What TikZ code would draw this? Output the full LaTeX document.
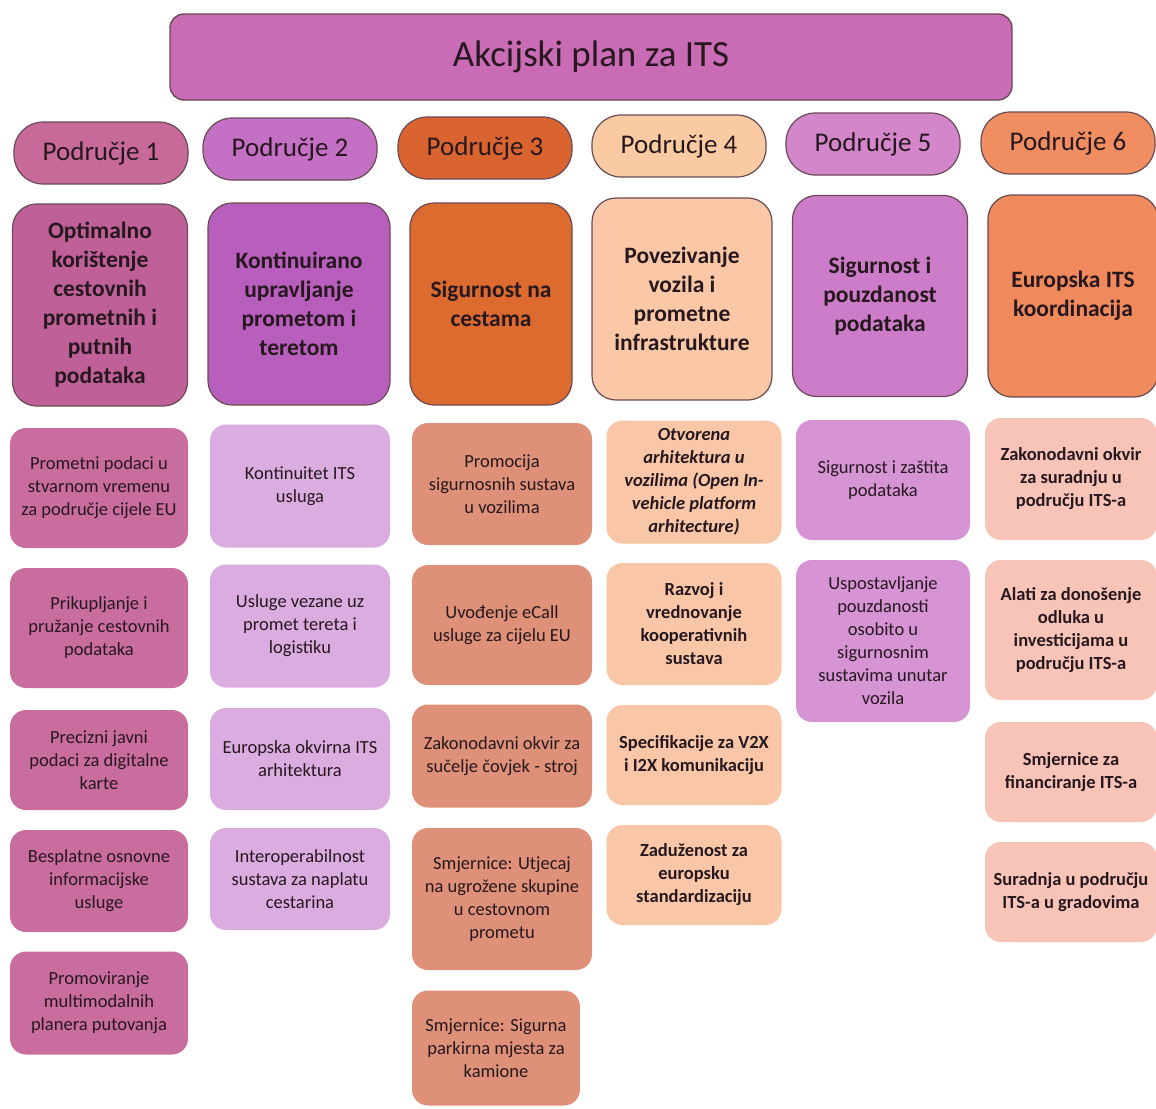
\documentclass[tikz,border=0pt]{standalone}
\usepackage{fontspec}
\setmainfont{Carlito}
\definecolor{rub}{RGB}{105,75,85}
\definecolor{tekst}{RGB}{38,24,30}
\definecolor{naslovboja}{RGB}{201,108,181}
%boje po podrucjima: zaglavlje, cilj, mjere
\definecolor{zagA}{RGB}{199,106,153}\definecolor{ciljA}{RGB}{192,96,152}\definecolor{mjeraA}{RGB}{201,108,158}
\definecolor{zagB}{RGB}{196,112,196}\definecolor{ciljB}{RGB}{184,94,188}\definecolor{mjeraB}{RGB}{218,172,224}
\definecolor{zagC}{RGB}{218,100,48}\definecolor{ciljC}{RGB}{221,106,46}\definecolor{mjeraC}{RGB}{222,144,120}
\definecolor{zagD}{RGB}{250,202,163}\definecolor{ciljD}{RGB}{250,200,166}\definecolor{mjeraD}{RGB}{249,199,168}
\definecolor{zagE}{RGB}{212,134,202}\definecolor{ciljE}{RGB}{204,124,200}\definecolor{mjeraE}{RGB}{214,148,213}
\definecolor{zagF}{RGB}{240,142,98}\definecolor{ciljF}{RGB}{240,138,92}\definecolor{mjeraF}{RGB}{248,196,184}
\begin{document}
\begin{tikzpicture}[x=1pt,y=-1pt,text=tekst,
	naslov/.style={draw=rub,line width=1.4pt,fill=naslovboja,rounded corners=14pt,minimum width=842pt,minimum height=86pt,font=\fontsize{37}{44}\selectfont},
	podrucje/.style={draw=rub,line width=1.2pt,rounded corners=29pt,minimum width=174pt,minimum height=62pt,font=\fontsize{27}{32}\selectfont},
	cilj/.style={draw=rub,line width=1.2pt,rounded corners=24pt,minimum height=202pt,align=center,font=\bfseries\fontsize{23.5}{29}\selectfont},
	mjera/.style={rounded corners=16pt,align=center,font=\fontsize{18.5}{23}\selectfont},
	mjerab/.style={mjera,font=\bfseries\fontsize{18.5}{23}\selectfont}]
	\useasboundingbox (0,0) rectangle (1156,1108);
	%Naslov
	\node[naslov] (plan) at (591,57) {Akcijski plan za ITS};
	%Podrucja
	\node[podrucje,fill=zagA] (p1) at (101,153) {Područje 1};
	\node[podrucje,fill=zagB] (p2) at (290,149) {Područje 2};
	\node[podrucje,fill=zagC] (p3) at (485,148) {Područje 3};
	\node[podrucje,fill=zagD] (p4) at (679,146) {Područje 4};
	\node[podrucje,fill=zagE] (p5) at (873,144) {Područje 5};
	\node[podrucje,fill=zagF] (p6) at (1068,143) {Područje 6};
	%Ciljevi
	\node[cilj,fill=ciljA,minimum width=175pt] (c1) at (100,305) {Optimalno\\korištenje\\cestovnih\\prometnih i\\putnih\\podataka};
	\node[cilj,fill=ciljB,minimum width=182pt] (c2) at (299,304) {Kontinuirano\\upravljanje\\prometom i\\teretom};
	\node[cilj,fill=ciljC,minimum width=162pt] (c3) at (491,304) {Sigurnost na\\cestama};
	\node[cilj,fill=ciljD,minimum width=180pt] (c4) at (682,299) {Povezivanje\\vozila i\\prometne\\infrastrukture};
	\node[cilj,fill=ciljE,minimum width=175pt,minimum height=201pt] (c5) at (880,296) {Sigurnost i\\pouzdanost\\podataka};
	\node[cilj,fill=ciljF,minimum width=170pt] (c6) at (1073,296) {Europska ITS\\koordinacija};
	%Mjere - podrucje 1
	\node[mjera,fill=mjeraA,minimum width=178pt,minimum height=120pt] (m11) at (99,488) {Prometni podaci u\\stvarnom vremenu\\za područje cijele EU};
	\node[mjera,fill=mjeraA,minimum width=178pt,minimum height=120pt] (m12) at (99,628) {Prikupljanje i\\pružanje cestovnih\\podataka};
	\node[mjera,fill=mjeraA,minimum width=178pt,minimum height=100pt] (m13) at (99,760) {Precizni javni\\podaci za digitalne\\karte};
	\node[mjera,fill=mjeraA,minimum width=178pt,minimum height=102pt] (m14) at (99,881) {Besplatne osnovne\\informacijske\\usluge};
	\node[mjera,fill=mjeraA,minimum width=178pt,minimum height=103pt] (m15) at (99,1003) {Promoviranje\\multimodalnih\\planera putovanja};
	%Mjere - podrucje 2
	\node[mjera,fill=mjeraB,minimum width=180pt,minimum height=123pt] (m21) at (300,486) {Kontinuitet ITS\\usluga};
	\node[mjera,fill=mjeraB,minimum width=180pt,minimum height=123pt] (m22) at (300,626) {Usluge vezane uz\\promet tereta i\\logistiku};
	\node[mjera,fill=mjeraB,minimum width=180pt,minimum height=102pt] (m23) at (300,759) {Europska okvirna ITS\\arhitektura};
	\node[mjera,fill=mjeraB,minimum width=180pt,minimum height=102pt] (m24) at (300,879) {Interoperabilnost\\sustava za naplatu\\cestarina};
	%Mjere - podrucje 3
	\node[mjera,fill=mjeraC,minimum width=180pt,minimum height=122pt] (m31) at (502,484) {Promocija\\sigurnosnih sustava\\u vozilima};
	\node[mjera,fill=mjeraC,minimum width=180pt,minimum height=120pt] (m32) at (502,625) {Uvođenje eCall\\usluge za cijelu EU};
	\node[mjera,fill=mjeraC,minimum width=180pt,minimum height=103pt] (m33) at (502,756) {Zakonodavni okvir za\\sučelje čovjek - stroj};
	\node[mjera,fill=mjeraC,minimum width=180pt,minimum height=142pt] (m34) at (502,899) {Smjernice: Utjecaj\\na ugrožene skupine\\u cestovnom\\prometu};
	\node[mjera,fill=mjeraC,minimum width=168pt,minimum height=115pt] (m35) at (496,1048) {Smjernice: Sigurna\\parkirna mjesta za\\kamione};
	%Mjere - podrucje 4
	\node[mjerab,fill=mjeraD,minimum width=175pt,minimum height=123pt,font=\bfseries\itshape\fontsize{18.5}{23}\selectfont] (m41) at (694,482) {Otvorena\\arhitektura u\\vozilima (Open In-\\vehicle platform\\arhitecture)};
	\node[mjerab,fill=mjeraD,minimum width=175pt,minimum height=122pt] (m42) at (694,624) {Razvoj i\\vrednovanje\\kooperativnih\\sustava};
	\node[mjerab,fill=mjeraD,minimum width=175pt,minimum height=100pt] (m43) at (694,755) {Specifikacije za V2X\\i I2X komunikaciju};
	\node[mjerab,fill=mjeraD,minimum width=175pt,minimum height=100pt] (m44) at (694,875) {Zaduženost za\\europsku\\standardizaciju};
	%Mjere - podrucje 5
	\node[mjera,fill=mjeraE,minimum width=174pt,minimum height=120pt] (m51) at (883,480) {Sigurnost i zaštita\\podataka};
	\node[mjera,fill=mjeraE,minimum width=174pt,minimum height=162pt] (m52) at (883,641) {Uspostavljanje\\pouzdanosti\\osobito u\\sigurnosnim\\sustavima unutar\\vozila};
	%Mjere - podrucje 6
	\node[mjerab,fill=mjeraF,minimum width=172pt,minimum height=122pt] (m61) at (1071,479) {Zakonodavni okvir\\za suradnju u\\području ITS-a};
	\node[mjerab,fill=mjeraF,minimum width=172pt,minimum height=140pt] (m62) at (1071,630) {Alati za donošenje\\odluka u\\investicijama u\\području ITS-a};
	\node[mjerab,fill=mjeraF,minimum width=172pt,minimum height=100pt] (m63) at (1071,772) {Smjernice za\\financiranje ITS-a};
	\node[mjerab,fill=mjeraF,minimum width=172pt,minimum height=100pt] (m64) at (1071,892) {Suradnja u području\\ITS-a u gradovima};
\end{tikzpicture}
\end{document}
